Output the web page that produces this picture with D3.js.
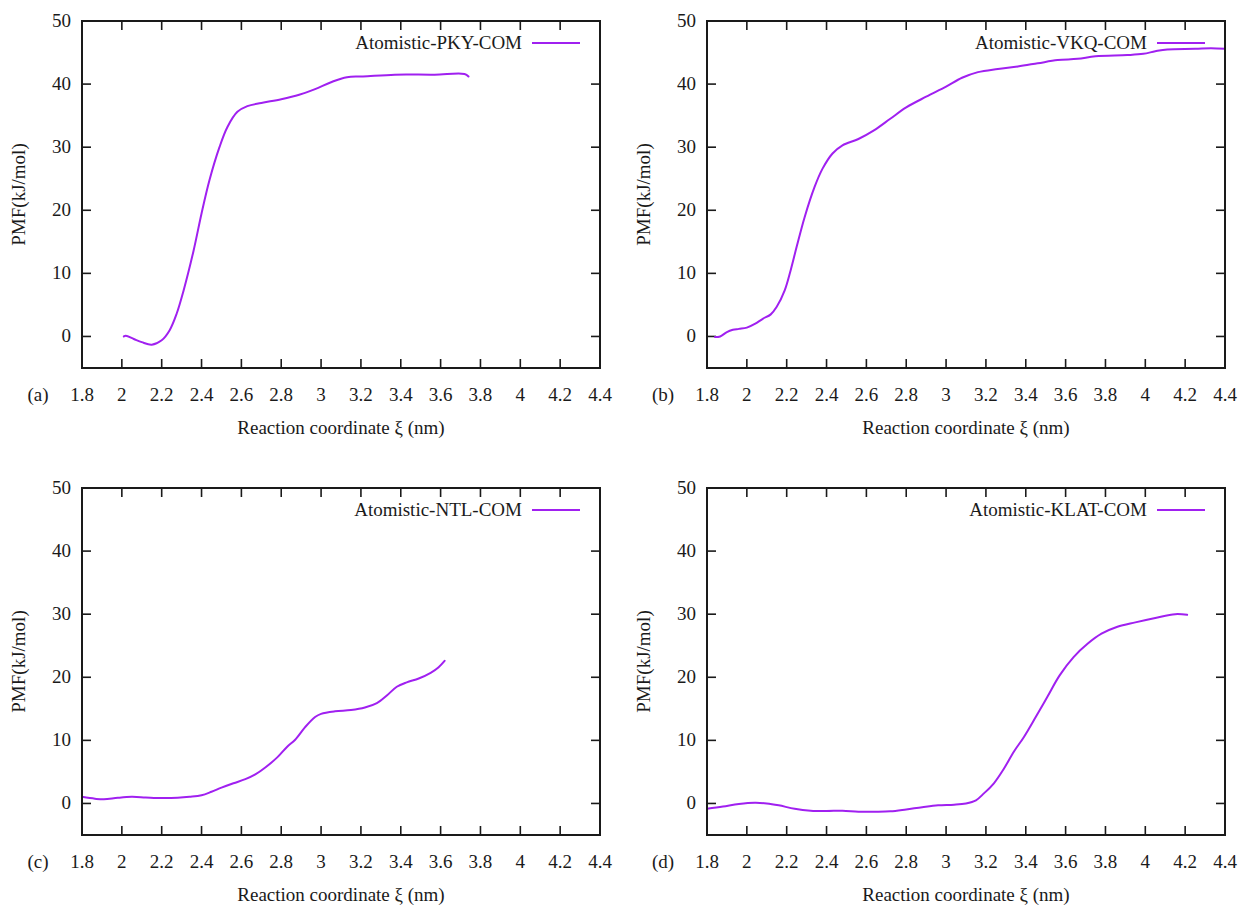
<!DOCTYPE html>
<html>
<head>
<meta charset="utf-8">
<script src="https://cdn.jsdelivr.net/npm/d3@7"></script>
<style>
  html, body { margin: 0; padding: 0; background: #fff; }
</style>
</head>
<body>
<svg id="chart" width="1243" height="909" font-family="'Liberation Serif', 'DejaVu Serif', serif"></svg>
<script>
// ---- data ----
const xTicks = [1.8, 2.0, 2.2, 2.4, 2.6, 2.8, 3.0, 3.2, 3.4, 3.6, 3.8, 4.0, 4.2, 4.4];
const yTicks = [0, 10, 20, 30, 40, 50];
const panelLetters = ["(a)", "(b)", "(c)", "(d)"];
const seriesNames = ["Atomistic-PKY-COM", "Atomistic-VKQ-COM", "Atomistic-NTL-COM", "Atomistic-KLAT-COM"];

const pkyX = [2.01, 2.02, 2.06, 2.10, 2.15, 2.20, 2.24, 2.275, 2.31, 2.36, 2.40, 2.44, 2.49, 2.53, 2.58, 2.63, 2.70, 2.80, 2.89, 2.97, 3.05, 3.13, 3.21, 3.37, 3.57, 3.72, 3.74];
const pkyY = [0.0, 0.1, -0.4, -0.9, -1.3, -0.6, 1.0, 3.6, 7.3, 13.6, 19.5, 24.8, 30.0, 33.2, 35.6, 36.5, 37.0, 37.6, 38.3, 39.2, 40.3, 41.1, 41.2, 41.5, 41.5, 41.6, 41.2];

const vkqX = [1.84, 1.866, 1.90, 1.93, 1.96, 2.00, 2.04, 2.08, 2.12, 2.15, 2.19, 2.22, 2.25, 2.29, 2.34, 2.38, 2.43, 2.48, 2.56, 2.64, 2.72, 2.80, 2.90, 3.00, 3.08, 3.16, 3.26, 3.36, 3.46, 3.56, 3.66, 3.75, 3.91, 3.99, 4.05, 4.11, 4.25, 4.33, 4.40];
const vkqY = [-0.1, 0.0, 0.7, 1.05, 1.2, 1.4, 2.0, 2.8, 3.5, 4.7, 7.3, 10.5, 14.2, 18.9, 23.7, 26.6, 29.0, 30.3, 31.3, 32.7, 34.5, 36.3, 38.0, 39.6, 41.0, 41.9, 42.4, 42.8, 43.3, 43.8, 44.0, 44.4, 44.6, 44.8, 45.2, 45.5, 45.6, 45.7, 45.6];

const ntlX = [1.80, 1.865, 1.91, 1.98, 2.05, 2.12, 2.20, 2.28, 2.34, 2.40, 2.45, 2.50, 2.56, 2.62, 2.67, 2.72, 2.78, 2.83, 2.87, 2.92, 2.97, 3.00, 3.07, 3.15, 3.22, 3.28, 3.33, 3.38, 3.43, 3.49, 3.55, 3.59, 3.62];
const ntlY = [1.05, 0.75, 0.65, 0.9, 1.05, 0.95, 0.85, 0.9, 1.05, 1.3, 1.85, 2.5, 3.2, 3.85, 4.6, 5.7, 7.3, 9.0, 10.1, 12.1, 13.7, 14.2, 14.6, 14.8, 15.2, 15.9, 17.1, 18.5, 19.2, 19.8, 20.7, 21.6, 22.6];

const klatX = [1.80, 1.88, 1.96, 2.04, 2.10, 2.16, 2.24, 2.32, 2.40, 2.48, 2.56, 2.64, 2.72, 2.80, 2.88, 2.96, 3.04, 3.10, 3.15, 3.19, 3.24, 3.29, 3.34, 3.39, 3.45, 3.51, 3.57, 3.64, 3.71, 3.78, 3.86, 3.95, 4.05, 4.15, 4.21];
const klatY = [-0.85, -0.5, -0.1, 0.1, 0.0, -0.3, -0.85, -1.15, -1.2, -1.15, -1.3, -1.3, -1.25, -0.95, -0.6, -0.3, -0.2, 0.0, 0.5, 1.6, 3.2, 5.5, 8.2, 10.5, 13.7, 17.0, 20.3, 23.2, 25.3, 26.9, 28.0, 28.7, 29.4, 30.0, 29.9];

const allX = [pkyX, vkqX, ntlX, klatX];
const allY = [pkyY, vkqY, ntlY, klatY];
const xDomain = [1.8, 4.4];
const yDomain = [-5, 50];

// ---- layout ----
const panelPos = [[82, 21], [707, 21], [82, 488], [707, 488]];
const W = 518, H = 347;
const lineColor = "#a020f0";
const textColor = "#1a1a1a";
const fontSize = 19;

const svg = d3.select("#chart");
const fmt = v => String(+v.toFixed(1));

panelPos.forEach((pos, i) => {
  const [left, top] = pos;
  const g = svg.append("g").attr("transform", `translate(${left},${top})`);
  const x = d3.scaleLinear().domain(xDomain).range([0, W]);
  const y = d3.scaleLinear().domain(yDomain).range([H, 0]);

  // ticks (mirrored, inward)
  const tickLen = 9;
  const ticks = g.append("g").attr("stroke", textColor).attr("stroke-width", 1.6);
  xTicks.forEach(t => {
    ticks.append("line").attr("x1", x(t)).attr("x2", x(t)).attr("y1", H).attr("y2", H - tickLen);
    ticks.append("line").attr("x1", x(t)).attr("x2", x(t)).attr("y1", 0).attr("y2", tickLen);
  });
  yTicks.forEach(t => {
    ticks.append("line").attr("x1", 0).attr("x2", tickLen).attr("y1", y(t)).attr("y2", y(t));
    ticks.append("line").attr("x1", W).attr("x2", W - tickLen).attr("y1", y(t)).attr("y2", y(t));
  });

  // tick labels
  g.append("g").selectAll("text").data(xTicks).join("text")
    .attr("x", d => x(d)).attr("y", H + 33)
    .attr("text-anchor", "middle").attr("font-size", fontSize).attr("fill", textColor)
    .text(fmt);
  g.append("g").selectAll("text").data(yTicks).join("text")
    .attr("x", -11).attr("y", d => y(d) + 6)
    .attr("text-anchor", "end").attr("font-size", fontSize).attr("fill", textColor)
    .text(d => d);

  // panel letter
  g.append("text").attr("x", -44).attr("y", H + 33)
    .attr("text-anchor", "middle").attr("font-size", fontSize).attr("fill", textColor)
    .text(panelLetters[i]);

  // axis titles
  g.append("text").attr("x", W / 2).attr("y", H + 66)
    .attr("text-anchor", "middle").attr("font-size", fontSize).attr("fill", textColor)
    .text("Reaction coordinate ξ (nm)");
  g.append("text")
    .attr("transform", `translate(${-57},${H / 2}) rotate(-90)`)
    .attr("text-anchor", "middle").attr("font-size", fontSize).attr("fill", textColor)
    .text("PMF(kJ/mol)");

  // curve
  const pts = allX[i].map((xv, k) => [xv, allY[i][k]]);
  const line = d3.line().x(d => x(d[0])).y(d => y(d[1])).curve(d3.curveCatmullRom.alpha(0.5));
  g.append("path").datum(pts)
    .attr("d", line)
    .attr("fill", "none").attr("stroke", lineColor).attr("stroke-width", 2)
    .attr("stroke-linejoin", "round").attr("stroke-linecap", "round");

  // legend
  g.append("text").attr("x", W - 78).attr("y", 22 + 6)
    .attr("text-anchor", "end").attr("font-size", fontSize).attr("fill", textColor)
    .text(seriesNames[i]);
  g.append("line").attr("x1", W - 68).attr("x2", W - 20).attr("y1", 22).attr("y2", 22)
    .attr("stroke", lineColor).attr("stroke-width", 2);

  // frame
  g.append("rect").attr("x", 0).attr("y", 0).attr("width", W).attr("height", H)
    .attr("fill", "none").attr("stroke", textColor).attr("stroke-width", 2);
});
</script>
</body>
</html>
